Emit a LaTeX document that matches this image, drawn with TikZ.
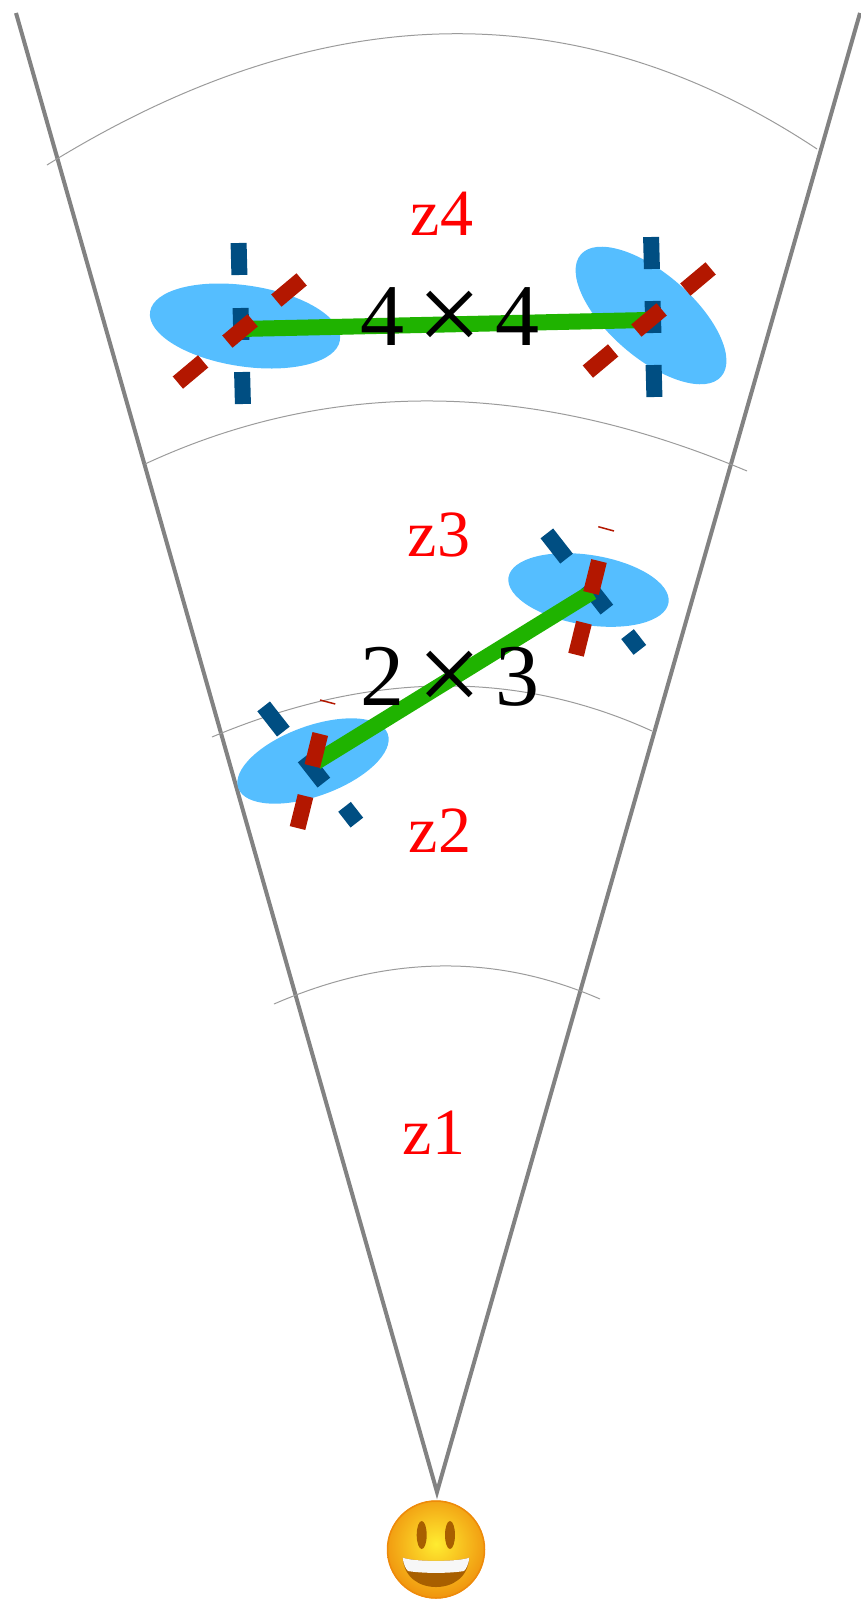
\documentclass[tikz,border=0pt]{standalone}
\usepackage{fontspec}
\setmainfont{Liberation Serif}
\usetikzlibrary{shapes.geometric,shadings}
\definecolor{skyb}{HTML}{55BEFF}
\definecolor{darkb}{HTML}{004E82}
\definecolor{darkr}{HTML}{B31700}
\definecolor{linkg}{HTML}{1FB300}
\definecolor{conegray}{HTML}{828282}
\definecolor{facerim}{HTML}{EE8A0A}
\definecolor{facein}{HTML}{FFEC30}
\definecolor{mouthb}{HTML}{A85F00}
\tikzset{
  lobe/.style={ellipse,fill=skyb,inner sep=0pt},
  bluebar/.style={rectangle,fill=darkb,inner sep=0pt,minimum width=32pt,minimum height=16pt},
  redbar/.style={rectangle,fill=darkr,inner sep=0pt,minimum width=33pt,minimum height=16pt},
  link/.style={draw=linkg,line width=16pt},
  cone/.style={draw=conegray,line width=4pt},
  shell/.style={draw=conegray!80,line width=1pt},
  zlabel/.style={text=red,font=\fontsize{66}{66}\selectfont,inner sep=0pt},
  mult/.style={text=black,font=\fontsize{88}{88}\selectfont,inner sep=0pt},
}
\newcommand{\gaptimes}{\hspace{13pt}\raisebox{-7pt}{\scalebox{1.3}{×}}\hspace{13pt}}
\begin{document}
\begin{tikzpicture}[x=1pt,y=-1pt]
\useasboundingbox (0,0) rectangle (861,1622);
% cone
\coordinate (apex) at (437,1492);
\coordinate (topl) at (16,13);
\coordinate (topr) at (860,13);
\draw[cone] (topl) -- (apex) -- (topr);
% shells
\coordinate (a1) at (47,165); \coordinate (b1) at (817,149);
\coordinate (a2) at (145,464); \coordinate (b2) at (747,471);
\coordinate (a3) at (212,737); \coordinate (b3) at (652,731);
\coordinate (a4) at (274,1004); \coordinate (b4) at (600,999);
\draw[shell] (a1) .. controls (320.7,-4.7) and (577.7,-9.7) .. (b1);
\draw[shell] (a2) .. controls (331,377.7) and (531.7,380) .. (b2);
\draw[shell] (a3) .. controls (369.3,671) and (516,669) .. (b3);
\draw[shell] (a4) .. controls (386.7,955) and (495.3,953.3) .. (b4);
% z labels
\node[zlabel] (z4) at (442,214) {z4};
\node[zlabel] (z3) at (439,535) {z3};
\node[zlabel] (z2) at (440,831) {z2};
\node[zlabel] (z1) at (434,1133) {z1};
% top pair
\node[lobe,minimum width=192pt,minimum height=81pt,rotate=-8.5] (e1) at (245,326) {};
\node[lobe,minimum width=186pt,minimum height=84pt,rotate=-41] (e2) at (651,315.5) {};
\node[bluebar,rotate=91.5] (b1t) at (239,259) {};
\node[bluebar,rotate=91.5] (b1m) at (241,324) {};
\node[bluebar,rotate=91.5] (b1b) at (242.5,388) {};
\node[bluebar,rotate=91.5] (b2t) at (651.5,253) {};
\node[bluebar,rotate=91.5] (b2m) at (653,317) {};
\node[bluebar,rotate=91.5] (b2b) at (654,381) {};
\coordinate (g1) at (240,329);
\coordinate (g2) at (648,320);
\draw[link] (g1) -- (g2);
\node[redbar,rotate=40] (r1t) at (289,290) {};
\node[redbar,rotate=40] (r1m) at (240,331) {};
\node[redbar,rotate=40] (r1b) at (190.5,372) {};
\node[redbar,rotate=40] (r2t) at (698,279) {};
\node[redbar,rotate=40] (r2m) at (649,320) {};
\node[redbar,rotate=40] (r2b) at (600.5,361) {};
\node[mult] (t44) at (450,320) {4\gaptimes4};
% lower pair
\node[lobe,minimum width=159pt,minimum height=70pt,rotate=20] (e3) at (313,761) {};
\node[lobe,minimum width=162pt,minimum height=70pt,rotate=-9] (e4) at (588.5,590) {};
\node[bluebar,rotate=-52] (b3t) at (273.5,719) {};
\node[bluebar,rotate=-52] (b3m) at (314,770) {};
\node[bluebar,rotate=-52,minimum width=20pt] (b3b) at (350.7,814.7) {};
\node[bluebar,rotate=-52] (b4t) at (556.7,546) {};
\node[bluebar,rotate=-52] (b4m) at (597,597) {};
\node[bluebar,rotate=-52,minimum width=20pt] (b4b) at (633.7,642) {};
\coordinate (g3) at (316,762);
\coordinate (g4) at (592,592);
\draw[link] (g3) -- (g4);
\node[redbar,rotate=76] (r3m) at (316.3,750) {};
\node[redbar,rotate=76] (r3b) at (301.5,812) {};
\node[redbar,rotate=76] (r4m) at (595,577) {};
\node[redbar,rotate=76] (r4b) at (580,638.7) {};
\coordinate (d1a) at (320,700); \coordinate (d1b) at (335.3,704);
\coordinate (d2a) at (598.3,526.7); \coordinate (d2b) at (614,531);
\draw[darkr,line width=1.5pt] (d1a) -- (d1b);
\draw[darkr,line width=1.5pt] (d2a) -- (d2b);
\node[mult] (t23) at (450,680) {2\gaptimes3};
% smiley
\begin{scope}
\clip (436,1549.5) circle (49);
\shade[shading=radial,inner color=facein,outer color=facerim] (436,1544) circle (60);
\end{scope}
\draw[facerim,line width=1.5pt] (436,1549.5) circle (48.5);
\fill[mouthb] (421.7,1535) ellipse (5 and 14);
\fill[mouthb] (450,1535) ellipse (5 and 14);
\fill[mouthb] (402.7,1557.5) .. controls (412,1562) and (460,1562) .. (469.3,1557.5) .. controls (468,1578) and (452,1587) .. (436,1587) .. controls (420,1587) and (404,1578) .. (402.7,1557.5) -- cycle;
\fill[white!94!gray] (402.7,1557.5) .. controls (412,1562) and (460,1562) .. (469.3,1557.5) .. controls (468.5,1565) and (466,1569) .. (464,1571) .. controls (450,1573.5) and (422,1573.5) .. (408,1571) .. controls (406,1569) and (403.5,1565) .. (402.7,1557.5) -- cycle;
\end{tikzpicture}
\end{document}
